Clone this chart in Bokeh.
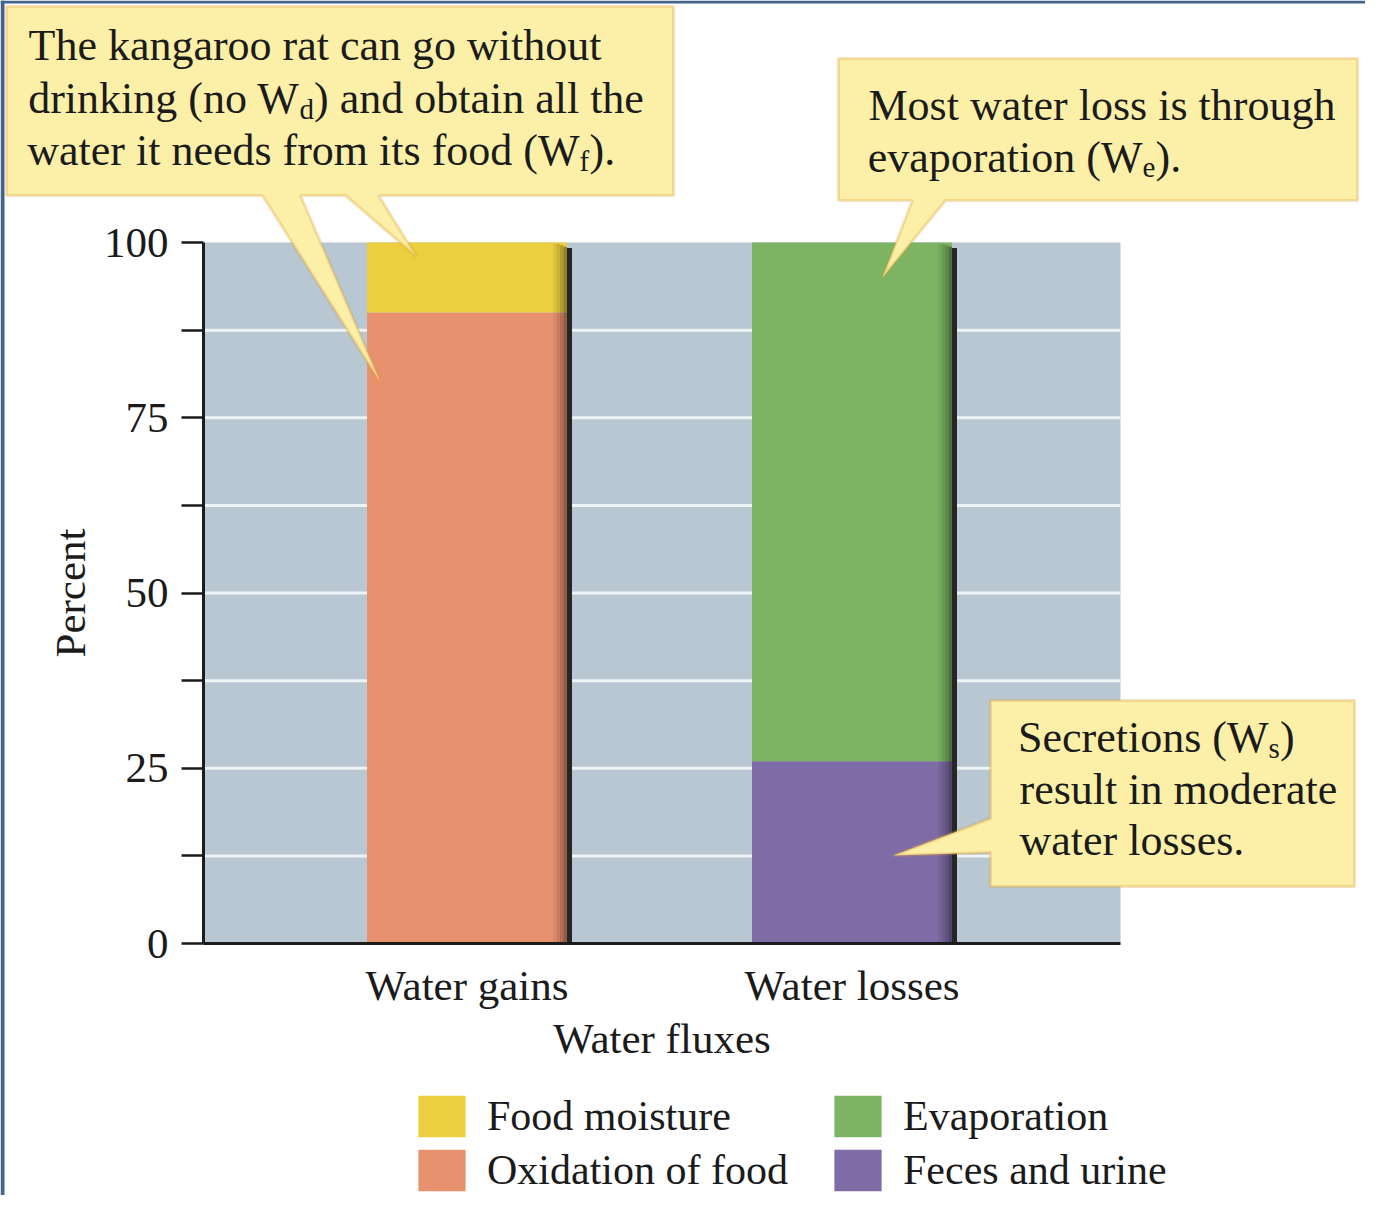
from bokeh.plotting import figure
from bokeh.models import (ColumnDataSource, Range1d, FixedTicker, Legend, LegendItem,
                          PolyAnnotation, Label, BoxAnnotation)
from bokeh.embed import file_html
from bokeh.resources import INLINE

# ---------------- data ----------------
categories = ["Water gains", "Water losses"]
oxidation_of_food = [90, 0]
feces_and_urine = [0, 26]
food_moisture = [10, 0]
evaporation = [0, 74]
series_names = ["Oxidation of food", "Feces and urine", "Food moisture", "Evaporation"]
series_colors = ["#e8916f", "#7f6ba5", "#ebcf3e", "#7cb464"]
y_ticks = [0, 25, 50, 75, 100]
y_minor_ticks = [12.5, 37.5, 62.5, 87.5]
x_label = "Water fluxes"
y_label = "Percent"

# ---------------- layout (canvas pixels) ----------------
W, H = 1365, 1195
FL, FR, FT, FB = 203, 1120, 242, 943      # plot-area edges
PX_X = 385.0                               # pixels per category step
XS = -466.5 / PX_X                         # data x at canvas left
PX_Y = (FB - FT) / 100.0
BAR_W = 200 / PX_X


def dx(px):
    return XS + px / PX_X


def dy(py):
    return (FB - py) / PX_Y


X_LEFT, X_RIGHT = dx(FL), dx(FR)
FONT = "Liberation Serif"
TXT = "#1b1b1b"

p = figure(width=W, height=H, title=None,
           x_range=Range1d(dx(0), dx(W)), y_range=Range1d(dy(H), dy(0)),
           output_backend="svg", toolbar_location=None,
           min_border_left=0, min_border_right=0, min_border_top=0, min_border_bottom=0)
p.background_fill_color = "white"
p.border_fill_color = "white"
p.outline_line_color = None
p.xgrid.visible = False
p.ygrid.visible = False

# slide border strips seen at the picture's edges
p.add_layout(BoxAnnotation(left=dx(0), right=dx(4), bottom=dy(H), top=dy(0),
                           fill_color="#45648a", fill_alpha=1, line_color=None, level="underlay"))
p.add_layout(BoxAnnotation(left=dx(0), right=dx(W), bottom=dy(3), top=dy(0),
                           fill_color="#45648a", fill_alpha=1, line_color=None, level="underlay"))

# plot-area background
p.add_layout(BoxAnnotation(left=X_LEFT, right=X_RIGHT, bottom=0, top=100,
                           fill_color="#b8c7d1", fill_alpha=1, line_color=None, level="underlay"))

# grid lines (between 0 and 100)
grid_vals = sorted([t for t in y_ticks if 0 < t < 100] + y_minor_ticks)
p.segment(x0=X_LEFT, x1=X_RIGHT, y0=grid_vals, y1=grid_vals, line_color="#eef3f6", line_width=3)

# axes placed at the plot-area edges
for ax in (p.xaxis[0], p.yaxis[0]):
    ax.axis_line_color = TXT
    ax.axis_line_width = 3
    ax.major_label_text_font = FONT
    ax.major_label_text_font_size = "43px"
    ax.major_label_text_color = TXT
    ax.axis_label_text_font = FONT
    ax.axis_label_text_font_size = "43px"
    ax.axis_label_text_font_style = "normal"
    ax.axis_label_text_color = TXT

p.xaxis.fixed_location = 0
p.xaxis.bounds = (X_LEFT, X_RIGHT)
p.xaxis.ticker = FixedTicker(ticks=list(range(len(categories))))
p.xaxis.major_label_overrides = {i: c for i, c in enumerate(categories)}
p.xaxis.major_tick_line_color = None
p.xaxis.minor_tick_line_color = None
p.xaxis.major_label_standoff = 12
p.xaxis.axis_label = x_label
p.xaxis.axis_label_standoff = 3

p.yaxis.fixed_location = X_LEFT
p.yaxis.bounds = (0, 100)
p.yaxis.ticker = FixedTicker(ticks=y_ticks, minor_ticks=y_minor_ticks)
p.yaxis.major_tick_in = 0
p.yaxis.major_tick_out = 22
p.yaxis.minor_tick_in = 0
p.yaxis.minor_tick_out = 22
p.yaxis.major_tick_line_width = 2.5
p.yaxis.minor_tick_line_width = 2.5
p.yaxis.major_tick_line_color = TXT
p.yaxis.minor_tick_line_color = TXT
p.yaxis.major_label_standoff = 13
p.yaxis.axis_label = y_label
p.yaxis.axis_label_standoff = 7

# ---------------- bars ----------------
xs = list(range(len(categories)))
src = ColumnDataSource(dict(x=xs, s0=oxidation_of_food, s1=feces_and_urine,
                            s2=food_moisture, s3=evaporation))
renderers = p.vbar_stack(["s0", "s1", "s2", "s3"], x="x", width=BAR_W, source=src,
                         fill_color=series_colors, line_color=None)

totals = [a + b + c + d for a, b, c, d in zip(oxidation_of_food, feces_and_urine,
                                              food_moisture, evaporation)]
half = BAR_W / 2
side_w = 14 / PX_X
edge_w = 5 / PX_X
for i, a in enumerate([0.06, 0.14, 0.24, 0.38]):
    p.vbar(x=[c + half - side_w + (i + 0.5) * side_w / 4 for c in xs], width=side_w / 4,
           top=[t - 0.2 * i for t in totals], bottom=0, fill_color="black", fill_alpha=a,
           line_color=None)
p.vbar(x=[c + half + edge_w / 2 for c in xs], width=edge_w, top=[t - 0.8 for t in totals],
       bottom=0, fill_color="#262626", line_color=None)

# ---------------- legends ----------------
def make_legend(items, glyph_left_px):
    # bokeh insets area glyphs by 10% on each side
    lg = Legend(items=items, location=(glyph_left_px - 6, H - 1196),
                glyph_width=59, glyph_height=52, label_standoff=16, spacing=2,
                label_height=48, padding=0, margin=0, border_line_color=None,
                background_fill_alpha=0, label_text_font=FONT, label_text_font_size="42px",
                label_text_color=TXT)
    p.add_layout(lg)


make_legend([LegendItem(label=series_names[2], renderers=[renderers[2]]),
             LegendItem(label=series_names[0], renderers=[renderers[0]])], 418)
make_legend([LegendItem(label=series_names[3], renderers=[renderers[3]]),
             LegendItem(label=series_names[1], renderers=[renderers[1]])], 834)

# ---------------- callouts ----------------
BUB_FILL = "#fcf0a8"
BUB_LINE = "#dc9c2e"
bubbles = [
    [(6, 6), (673, 6), (673, 195), (378, 195), (416, 256), (345, 195), (300, 195),
     (380, 382), (262, 195), (6, 195)],
    [(838, 58), (1357, 58), (1357, 200), (945, 200), (882, 277), (912, 200), (838, 200)],
    [(990, 700), (1354, 700), (1354, 886), (990, 886), (990, 852), (893, 855), (990, 818)],
]
for pts in bubbles:
    p.add_layout(PolyAnnotation(xs=[dx(a) for a, b in pts], ys=[dy(b) for a, b in pts],
                                xs_units="data", ys_units="data",
                                fill_color=BUB_FILL, fill_alpha=1,
                                line_color=BUB_LINE, line_width=3))


def label(px, py, text, size="44px", align="left"):
    p.add_layout(Label(x=dx(px), y=dy(py), text=text, text_font=FONT, text_font_size=size,
                       text_color=TXT, text_baseline="alphabetic", text_align=align))


def sub_line(x_sub, py, before, sub, after, sub_w):
    label(x_sub, py, before, align="right")
    label(x_sub, py + 10, sub, size="29px")
    label(x_sub + sub_w, py, after)


label(28, 45, "The kangaroo rat can go without")
sub_line(299, 98, "drinking (no W", "d", ") and obtain all the", 14.5)
sub_line(579, 150, "water it needs from its food (W", "f", ").", 10)

label(868, 105, "Most water loss is through")
sub_line(1142, 157, "evaporation (W", "e", ").", 13)

sub_line(1268, 737, "Secretions (W", "s", ")", 11.5)
label(1019, 789, "result in moderate")
label(1019, 840, "water losses.")

open("out.html", "w").write(file_html(p, INLINE))
